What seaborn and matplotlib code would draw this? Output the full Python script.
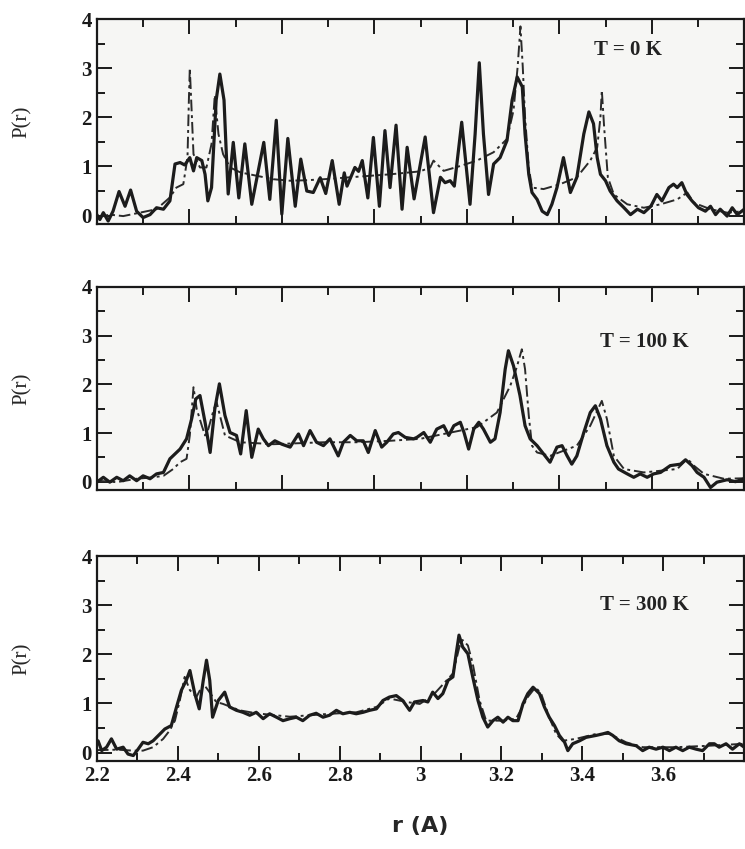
import matplotlib
matplotlib.use("Agg")
import matplotlib.pyplot as plt
import seaborn as sns
import pandas as pd
from matplotlib.ticker import MultipleLocator

# ---------------- data ----------------
temps = ["T = 0 K", "T = 100 K", "T = 300 K"]

# T = 0 K
r0_solid = [2.200, 2.2065, 2.214, 2.2245, 2.235, 2.248, 2.261, 2.273, 2.286, 2.300, 2.315, 2.329, 2.344, 2.358,
            2.369, 2.380, 2.390, 2.401, 2.409, 2.416, 2.427, 2.434, 2.440, 2.448, 2.458, 2.466, 2.475, 2.480,
            2.484, 2.495, 2.507, 2.520, 2.535, 2.561, 2.574, 2.588, 2.600, 2.613, 2.629, 2.641, 2.654, 2.668,
            2.683, 2.695, 2.709, 2.724, 2.735, 2.741, 2.758, 2.766, 2.774, 2.786, 2.798, 2.811, 2.823, 2.834,
            2.847, 2.860, 2.871, 2.886, 2.910, 2.928, 2.943, 2.953, 2.964, 2.973, 2.989, 3.007, 3.018, 3.027,
            3.036, 3.047, 3.058, 3.072, 3.087, 3.098, 3.109, 3.120, 3.126, 3.134, 3.141, 3.152, 3.163, 3.174,
            3.184, 3.195, 3.209, 3.224, 3.238, 3.253, 3.264, 3.274, 3.282, 3.289, 3.300, 3.310, 3.325, 3.340,
            3.354, 3.369, 3.383, 3.398, 3.411, 3.422, 3.437, 3.447, 3.455, 3.465, 3.476, 3.487, 3.501, 3.516,
            3.527, 3.538, 3.548, 3.563, 3.574, 3.585, 3.600]
p0_solid = [0.02, -0.08, 0.06, -0.11, 0.09, 0.49, 0.19, 0.52, 0.09, -0.04, 0.02, 0.16, 0.13, 0.30,
            1.05, 1.08, 1.03, 1.18, 0.91, 1.18, 1.12, 0.84, 0.30, 0.57, 2.35, 2.88, 2.35, 1.25,
            0.44, 1.49, 0.36, 1.46, 0.23, 1.49, 0.33, 1.94, 0.03, 1.57, 0.19, 1.15, 0.50, 0.47,
            0.77, 0.45, 1.12, 0.23, 0.87, 0.60, 0.98, 0.90, 1.12, 0.36, 1.59, 0.19, 1.73, 0.57,
            1.84, 0.13, 1.39, 0.34, 1.60, 0.06, 0.78, 0.67, 0.71, 0.60, 1.90, 0.23, 1.66, 3.11,
            1.66, 0.43, 1.05, 1.18, 1.53, 2.35, 2.82, 2.62, 1.66, 0.84, 0.47, 0.33, 0.09, 0.02,
            0.23, 0.57, 1.18, 0.47, 0.78, 1.66, 2.11, 1.87, 1.18, 0.84, 0.71, 0.50, 0.30, 0.16,
            0.02, 0.13, 0.06, 0.19, 0.43, 0.30, 0.57, 0.64, 0.57, 0.67, 0.43, 0.30, 0.16, 0.09,
            0.19, 0.02, 0.13, -0.01, 0.16, 0.02, 0.13]
r0_dash = [2.200, 2.228, 2.257, 2.293, 2.329, 2.358, 2.372, 2.387, 2.396, 2.399, 2.401, 2.404, 2.409, 2.423,
           2.437, 2.448, 2.455, 2.463, 2.473, 2.488, 2.510, 2.546, 2.582, 2.618, 2.654, 2.690, 2.762, 2.834,
           2.899, 2.921, 2.928, 2.950, 2.986, 3.022, 3.058, 3.087, 3.101, 3.110, 3.116, 3.121, 3.126, 3.134,
           3.141, 3.166, 3.202, 3.238, 3.267, 3.282, 3.289, 3.292, 3.297, 3.305, 3.318, 3.347, 3.383, 3.419,
           3.455, 3.477, 3.491, 3.527, 3.563, 3.600]
p0_dash = [-0.04, 0.02, -0.01, 0.06, 0.13, 0.37, 0.57, 0.64, 1.18, 2.35, 3.00, 2.35, 1.25, 0.98,
           0.98, 1.46, 2.45, 1.66, 1.25, 0.98, 0.88, 0.81, 0.74, 0.71, 0.72, 0.74, 0.79, 0.84,
           0.90, 0.98, 1.12, 0.91, 1.01, 1.12, 1.29, 1.56, 2.14, 3.03, 3.85, 3.03, 2.00, 0.98,
           0.57, 0.54, 0.64, 0.78, 1.12, 1.39, 2.00, 2.55, 1.80, 0.78, 0.43, 0.23, 0.16, 0.23,
           0.33, 0.47, 0.26, 0.13, 0.06, 0.09]

# T = 100 K
r1_solid = [2.200, 2.214, 2.228, 2.243, 2.257, 2.271, 2.286, 2.300, 2.315, 2.329, 2.344, 2.358, 2.380, 2.394,
            2.405, 2.414, 2.423, 2.434, 2.445, 2.455, 2.465, 2.477, 2.488, 2.502, 2.511, 2.523, 2.535, 2.549,
            2.560, 2.571, 2.585, 2.600, 2.618, 2.636, 2.647, 2.661, 2.675, 2.690, 2.704, 2.722, 2.733, 2.748,
            2.762, 2.776, 2.787, 2.802, 2.816, 2.827, 2.841, 2.852, 2.867, 2.885, 2.892, 2.907, 2.921, 2.935,
            2.950, 2.961, 2.972, 2.986, 2.994, 3.004, 3.015, 3.026, 3.036, 3.051, 3.061, 3.072, 3.083, 3.090,
            3.101, 3.115, 3.126, 3.137, 3.152, 3.166, 3.180, 3.195, 3.206, 3.217, 3.227, 3.238, 3.253, 3.267,
            3.278, 3.289, 3.303, 3.318, 3.328, 3.347, 3.361, 3.375, 3.390, 3.404, 3.419, 3.440, 3.462, 3.473,
            3.487, 3.498, 3.513, 3.527, 3.541, 3.563, 3.581, 3.600]
p1_solid = [-0.01, 0.09, -0.01, 0.09, 0.02, 0.12, 0.02, 0.12, 0.06, 0.16, 0.19, 0.47, 0.67, 0.88,
            1.29, 1.70, 1.77, 1.22, 0.60, 1.49, 2.01, 1.36, 1.01, 0.95, 0.57, 1.46, 0.50, 1.08,
            0.88, 0.74, 0.84, 0.77, 0.71, 0.98, 0.74, 1.05, 0.81, 0.74, 0.88, 0.53, 0.81, 0.95,
            0.84, 0.84, 0.60, 1.05, 0.71, 0.81, 0.98, 1.01, 0.91, 0.88, 0.91, 1.01, 0.81, 1.08,
            1.15, 0.95, 1.15, 1.22, 1.01, 0.67, 1.08, 1.22, 1.08, 0.81, 0.88, 1.42, 2.31, 2.69,
            2.38, 1.77, 1.15, 0.88, 0.74, 0.57, 0.40, 0.71, 0.74, 0.53, 0.36, 0.53, 1.01, 1.42,
            1.56, 1.29, 0.74, 0.40, 0.26, 0.16, 0.09, 0.16, 0.09, 0.16, 0.19, 0.33, 0.36, 0.45,
            0.33, 0.19, 0.09, -0.12, -0.01, 0.04, 0.00, 0.06]
r1_dash = [2.200, 2.243, 2.286, 2.322, 2.344, 2.365, 2.380, 2.394, 2.401, 2.409, 2.416, 2.427, 2.434, 2.441,
           2.453, 2.459, 2.468, 2.477, 2.510, 2.582, 2.690, 2.762, 2.834, 2.899, 2.950, 3.022, 3.065, 3.094,
           3.108, 3.119, 3.126, 3.134, 3.141, 3.152, 3.180, 3.238, 3.267, 3.292, 3.303, 3.318, 3.340, 3.383,
           3.455, 3.477, 3.491, 3.513, 3.556, 3.600]
p1_dash = [0.02, -0.01, 0.06, 0.09, 0.12, 0.26, 0.40, 0.47, 0.95, 1.94, 1.49, 1.15, 0.95, 1.08,
           1.49, 1.63, 1.29, 0.95, 0.81, 0.77, 0.81, 0.81, 0.84, 0.88, 0.98, 1.12, 1.42, 1.97,
           2.35, 2.72, 2.31, 1.36, 0.74, 0.60, 0.53, 0.74, 1.15, 1.66, 1.29, 0.53, 0.26, 0.19,
           0.26, 0.47, 0.33, 0.16, 0.06, 0.07]

# T = 300 K
r2_solid = [2.203, 2.212, 2.224, 2.236, 2.249, 2.265, 2.277, 2.290, 2.302, 2.314, 2.327, 2.339, 2.356, 2.368,
            2.384, 2.397, 2.409, 2.421, 2.430, 2.442, 2.453, 2.463, 2.471, 2.479, 2.486, 2.500, 2.516, 2.528,
            2.545, 2.561, 2.578, 2.594, 2.611, 2.627, 2.644, 2.660, 2.677, 2.693, 2.709, 2.726, 2.742, 2.759,
            2.775, 2.792, 2.808, 2.825, 2.841, 2.858, 2.874, 2.891, 2.907, 2.923, 2.940, 2.956, 2.973, 2.985,
            3.006, 3.018, 3.030, 3.043, 3.055, 3.068, 3.080, 3.088, 3.095, 3.104, 3.117, 3.129, 3.142, 3.154,
            3.166, 3.179, 3.191, 3.204, 3.216, 3.228, 3.241, 3.253, 3.265, 3.278, 3.294, 3.306, 3.318, 3.331,
            3.343, 3.356, 3.364, 3.376, 3.393, 3.409, 3.434, 3.450, 3.463, 3.475, 3.491, 3.508, 3.533, 3.549,
            3.565, 3.582, 3.599, 3.615, 3.631, 3.648, 3.664, 3.681, 3.697, 3.714, 3.726, 3.738, 3.755, 3.771,
            3.788, 3.800]
p2_solid = [0.24, 0.04, 0.11, 0.28, 0.07, 0.11, -0.03, -0.06, 0.07, 0.21, 0.18, 0.24, 0.38, 0.48,
            0.55, 0.93, 1.27, 1.47, 1.67, 1.20, 0.89, 1.47, 1.88, 1.47, 0.72, 1.06, 1.23, 0.93,
            0.86, 0.82, 0.76, 0.82, 0.69, 0.79, 0.72, 0.65, 0.69, 0.72, 0.65, 0.76, 0.80, 0.72,
            0.76, 0.86, 0.79, 0.82, 0.79, 0.82, 0.86, 0.89, 1.06, 1.13, 1.16, 1.06, 0.86, 1.03,
            1.06, 1.03, 1.23, 1.10, 1.20, 1.47, 1.54, 2.01, 2.39, 2.15, 2.01, 1.54, 1.06, 0.72,
            0.52, 0.65, 0.72, 0.62, 0.72, 0.65, 0.65, 0.99, 1.20, 1.33, 1.20, 0.93, 0.72, 0.55,
            0.35, 0.21, 0.04, 0.18, 0.24, 0.31, 0.35, 0.38, 0.41, 0.35, 0.24, 0.18, 0.14, 0.04,
            0.11, 0.07, 0.11, 0.04, 0.11, 0.04, 0.11, 0.07, 0.04, 0.18, 0.18, 0.11, 0.18, 0.07,
            0.18, 0.11]
r2_dash = [2.200, 2.250, 2.290, 2.314, 2.339, 2.364, 2.380, 2.393, 2.405, 2.417, 2.430, 2.446, 2.463, 2.475,
           2.495, 2.512, 2.553, 2.594, 2.677, 2.759, 2.841, 2.891, 2.923, 2.965, 2.998, 3.030, 3.080, 3.096,
           3.104, 3.117, 3.129, 3.146, 3.162, 3.204, 3.236, 3.265, 3.284, 3.298, 3.318, 3.335, 3.351, 3.384,
           3.434, 3.467, 3.508, 3.549, 3.631, 3.714, 3.800]
p2_dash = [0.05, 0.06, 0.04, 0.04, 0.11, 0.28, 0.45, 0.65, 1.06, 1.54, 1.27, 1.13, 1.40, 1.27,
           1.03, 0.99, 0.86, 0.80, 0.73, 0.78, 0.82, 0.93, 1.10, 1.03, 0.99, 1.16, 1.61, 2.15,
           2.29, 2.18, 1.81, 1.06, 0.65, 0.65, 0.69, 1.13, 1.33, 1.20, 0.72, 0.38, 0.24, 0.28,
           0.38, 0.38, 0.21, 0.11, 0.11, 0.14, 0.18]

solid_r = [r0_solid, r1_solid, r2_solid]
solid_p = [p0_solid, p1_solid, p2_solid]
dash_r = [r0_dash, r1_dash, r2_dash]
dash_p = [p0_dash, p1_dash, p2_dash]
xlims = [(2.2, 3.6), (2.2, 3.6), (2.2, 3.8)]
xtick_labels = ["2.2", "2.4", "2.6", "2.8", "3", "3.2", "3.4", "3.6"]
ytick_labels = ["0", "1", "2", "3", "4"]

# ---------------- style ----------------
sns.set_theme(style="ticks")
plt.rcParams["font.family"] = ["Liberation Serif", "DejaVu Serif"]

fig = plt.figure(figsize=(7.45, 8.49), dpi=100)
fig.patch.set_facecolor("white")

boxes = [(0.130, 0.7362, 0.869, 0.2414),
         (0.130, 0.4229, 0.869, 0.2391),
         (0.130, 0.1037, 0.869, 0.2414)]
text_pos = [(0.82, 0.85), (0.845, 0.73), (0.845, 0.76)]

for i in range(3):
    ax = fig.add_axes(boxes[i])
    ax.set_facecolor("#f6f6f4")
    ds = pd.DataFrame({"r": solid_r[i], "P": solid_p[i]})
    dd = pd.DataFrame({"r": dash_r[i], "P": dash_p[i]})
    sns.lineplot(data=dd, x="r", y="P", ax=ax, color="#2a2a2a", lw=1.4,
                 linestyle=(0, (6, 2, 1.5, 2)), estimator=None, sort=False)
    sns.lineplot(data=ds, x="r", y="P", ax=ax, color="#1c1c1c", lw=2.3,
                 estimator=None, sort=False)
    ax.set_xlim(*xlims[i])
    ax.set_ylim(-0.17, 4.0)
    ax.xaxis.set_major_locator(MultipleLocator(0.2))
    ax.xaxis.set_minor_locator(MultipleLocator(0.1))
    ax.yaxis.set_major_locator(MultipleLocator(1))
    ax.yaxis.set_minor_locator(MultipleLocator(0.5))
    ax.tick_params(which="both", direction="in", top=True, right=True, width=1.4, colors="#1a1a1a")
    ax.tick_params(which="major", length=11)
    ax.tick_params(which="minor", length=6)
    ax.set_yticks([0, 1, 2, 3, 4])
    ax.set_yticklabels(ytick_labels, fontsize=15, fontweight="bold")
    for sp in ax.spines.values():
        sp.set_linewidth(1.6)
        sp.set_color("#1a1a1a")
    ax.set_ylabel("P(r)", fontsize=15, labelpad=36)
    ax.text(text_pos[i][0], text_pos[i][1], temps[i], transform=ax.transAxes,
            ha="center", va="center", fontsize=15, fontweight="bold", color="#222222")
    if i < 2:
        ax.set_xlabel("")
        ax.set_xticklabels([])
    else:
        ax.set_xticks([2.2, 2.4, 2.6, 2.8, 3.0, 3.2, 3.4, 3.6])
        ax.set_xticklabels(xtick_labels, fontsize=15, fontweight="bold")
        ax.set_xlabel("r (A)", fontsize=16, fontweight="bold", family="DejaVu Sans",
                      labelpad=22)

fig.savefig("out.png", dpi=100)
